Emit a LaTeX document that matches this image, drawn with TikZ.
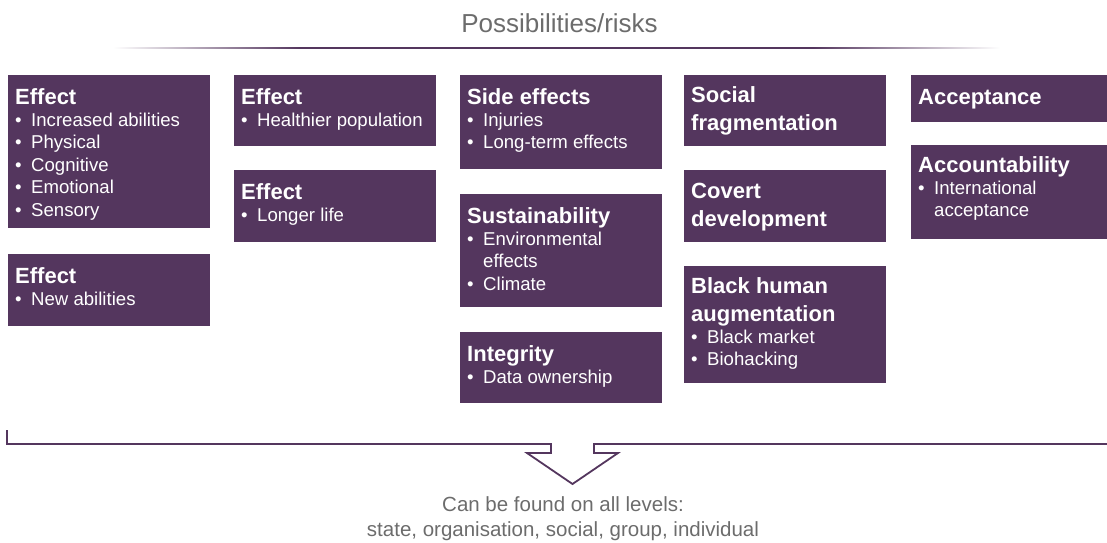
\documentclass[tikz,border=0pt]{standalone}
\usepackage{fontspec}
\setmainfont{Liberation Sans}
\definecolor{boxc}{RGB}{84,54,94}
\definecolor{txtg}{RGB}{108,108,108}
\tikzset{
  pbox/.style={rectangle, draw=none, fill=boxc, anchor=north west, inner sep=0pt, outer sep=0pt},
  ptext/.style={anchor=base west, inner sep=0pt, text=white},
  captxt/.style={text=txtg, inner sep=0pt, anchor=base},
  frame/.style={draw=boxc, line width=1.8pt, line join=miter}
}
\newcommand{\titlef}{\fontsize{22}{28}\selectfont\bfseries}
\newcommand{\bodyf}{\fontsize{18.6}{22.4}\selectfont\mdseries}
\newcommand{\bul}[1]{\makebox[16pt][l]{\textbullet}#1}
\newcommand{\cont}[1]{\hspace*{16pt}#1}
\newcommand{\boxtxt}[2]{\parbox[t]{196pt}{\parskip=0pt\raggedright\titlef #1\par\ifx&#2&\else\bodyf #2\par\fi}}
\begin{document}
\begin{tikzpicture}[x=1pt,y=-1pt]
\useasboundingbox (0,0) rectangle (1107,542);

% header
\node[captxt, font=\fontsize{26}{30}\selectfont] (hdr) at (559.5,32) {Possibilities/risks};
\shade[left color=white, right color=boxc] (113,47.2) rectangle (300,48.8);
\fill[boxc] (299.5,47.2) rectangle (813.5,48.8);
\shade[left color=boxc, right color=white] (813,47.2) rectangle (1000,48.8);

% column 1
\node[pbox, minimum width=202pt, minimum height=153pt] (b1) at (8,75) {};
\node[ptext] (t1) at (15,104) {\boxtxt{Effect}{\bul{Increased abilities}\\\bul{Physical}\\\bul{Cognitive}\\\bul{Emotional}\\\bul{Sensory}}};
\node[pbox, minimum width=202pt, minimum height=72pt] (b2) at (8,254) {};
\node[ptext] (t2) at (15,283) {\boxtxt{Effect}{\bul{New abilities}}};

% column 2
\node[pbox, minimum width=202pt, minimum height=71pt] (b3) at (234,75) {};
\node[ptext] (t3) at (241,104) {\boxtxt{Effect}{\bul{Healthier population}}};
\node[pbox, minimum width=202pt, minimum height=72pt] (b4) at (234,170) {};
\node[ptext] (t4) at (241,199) {\boxtxt{Effect}{\bul{Longer life}}};

% column 3
\node[pbox, minimum width=202pt, minimum height=94pt] (b5) at (460,75) {};
\node[ptext] (t5) at (467,104) {\boxtxt{Side effects}{\bul{Injuries}\\\bul{Long-term effects}}};
\node[pbox, minimum width=202pt, minimum height=113pt] (b6) at (460,194) {};
\node[ptext] (t6) at (467,223) {\boxtxt{Sustainability}{\bul{Environmental}\\\cont{effects}\\\bul{Climate}}};
\node[pbox, minimum width=202pt, minimum height=71pt] (b7) at (460,332) {};
\node[ptext] (t7) at (467,361) {\boxtxt{Integrity}{\bul{Data ownership}}};

% column 4
\node[pbox, minimum width=202pt, minimum height=71pt] (b8) at (684,75) {};
\node[ptext] (t8) at (691,102) {\boxtxt{Social\\fragmentation}{}};
\node[pbox, minimum width=202pt, minimum height=72pt] (b9) at (684,170) {};
\node[ptext] (t9) at (691,198) {\boxtxt{Covert\\development}{}};
\node[pbox, minimum width=202pt, minimum height=117pt] (b10) at (684,266) {};
\node[ptext] (t10) at (691,293) {\boxtxt{Black human\\augmentation}{\bul{Black market}\\\bul{Biohacking}}};

% column 5
\node[pbox, minimum width=202pt, minimum height=47pt] (b11) at (911,75) {};
\node[ptext] (t11) at (918,104) {\boxtxt{Acceptance}{}};
\node[pbox, minimum width=202pt, minimum height=94pt] (b12) at (911,145) {};
\node[ptext] (t12) at (918,172) {\boxtxt{Accountability}{\bul{International}\\\cont{acceptance}}};

% bracket with arrow
\coordinate (lt) at (7,430);
\coordinate (lb) at (7,444);
\coordinate (s1) at (551,444);
\coordinate (s2) at (551,453);
\coordinate (h1) at (527,453);
\coordinate (tip) at (572.5,484);
\coordinate (h2) at (618,453);
\coordinate (s3) at (594,453);
\coordinate (s4) at (594,444);
\coordinate (re) at (1110,444);
\draw[frame] (lt) -- (lb) -- (s1) -- (s2) -- (h1) -- (tip) -- (h2) -- (s3) -- (s4) -- (re);

% footer text
\node[captxt, font=\fontsize{20.5}{25}\selectfont] (f1) at (563,511) {Can be found on all levels:};
\node[captxt, font=\fontsize{20.5}{25}\selectfont] (f2) at (563,536) {state, organisation, social, group, individual};
\end{tikzpicture}
\end{document}
